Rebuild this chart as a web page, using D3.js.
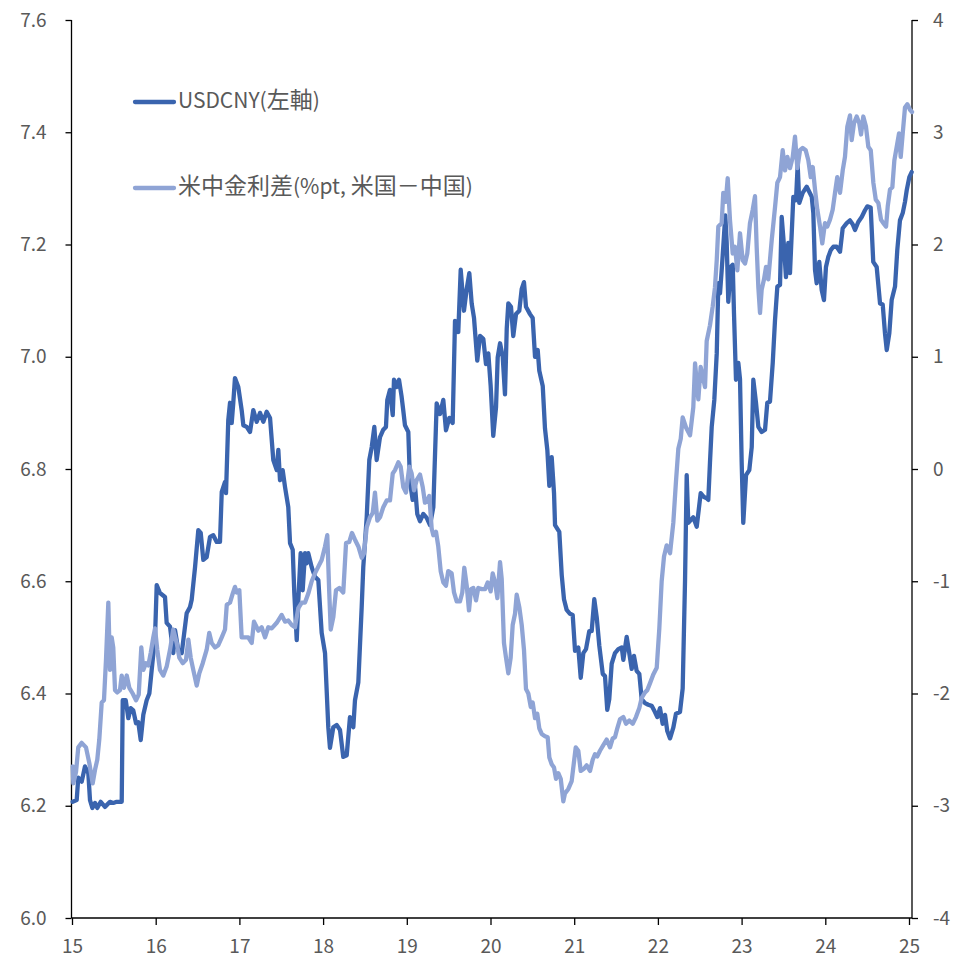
<!DOCTYPE html>
<html>
<head>
<meta charset="utf-8">
<script src="https://cdn.jsdelivr.net/npm/d3@7"></script>
<style>
  body { margin: 0; background: #fff; }
  text { font-family: "Noto Sans CJK JP", "Noto Sans", sans-serif; fill: #595959; }
</style>
</head>
<body>
<svg id="chart" width="953" height="960"></svg>
<script>
// USD/CNY spot rate (left axis); time in decimal years
const usdDates = [
  2015.008,2015.056,2015.075,2015.116,2015.155,2015.195,2015.215,2015.243,2015.275,2015.302,
  2015.343,2015.394,2015.454,2015.493,2015.534,2015.594,2015.606,2015.642,2015.673,2015.701,
  2015.732,2015.765,2015.792,2015.821,2015.852,2015.892,2015.924,2015.952,2015.992,
  2016.012,2016.051,2016.111,2016.131,2016.171,2016.210,2016.231,2016.270,2016.311,2016.330,
  2016.370,2016.410,2016.430,2016.470,2016.509,2016.538,2016.569,2016.609,2016.649,2016.688,
  2016.729,2016.768,2016.789,2016.828,2016.840,2016.867,2016.888,2016.908,2016.927,2016.947,2016.987,
  2017.027,2017.047,2017.087,2017.127,2017.166,2017.207,2017.246,2017.286,2017.326,2017.366,
  2017.405,2017.446,2017.465,2017.485,2017.517,2017.545,2017.584,2017.605,2017.637,2017.656,
  2017.685,2017.704,2017.732,2017.756,2017.784,2017.804,2017.823,2017.864,2017.903,2017.943,2017.983,
  2018.023,2018.062,2018.082,2018.122,2018.162,2018.202,2018.241,2018.282,2018.321,2018.361,
  2018.381,2018.421,2018.461,2018.480,2018.521,2018.552,2018.581,2018.612,2018.640,2018.680,
  2018.719,2018.751,2018.767,2018.799,2018.832,2018.847,2018.879,2018.907,2018.937,2018.958,2018.978,
  2019.018,2019.038,2019.070,2019.098,2019.125,2019.158,2019.197,2019.238,2019.277,2019.317,
  2019.357,2019.397,2019.436,2019.468,2019.508,2019.548,2019.576,2019.615,2019.644,2019.683,
  2019.716,2019.747,2019.775,2019.803,2019.842,2019.875,2019.914,2019.946,2019.974,
  2020.002,2020.033,2020.066,2020.086,2020.114,2020.146,2020.173,2020.194,2020.213,2020.245,
  2020.272,2020.305,2020.344,2020.373,2020.400,2020.424,2020.472,2020.504,2020.532,2020.564,
  2020.583,2020.624,2020.651,2020.679,2020.703,2020.731,2020.759,2020.771,2020.822,2020.851,
  2020.878,2020.910,2020.950,2020.982,
  2021.010,2021.049,2021.078,2021.109,2021.141,2021.180,2021.209,2021.240,2021.269,2021.300,
  2021.341,2021.368,2021.395,2021.419,2021.448,2021.487,2021.527,2021.568,2021.587,2021.627,
  2021.658,2021.687,2021.714,2021.747,2021.778,2021.806,2021.846,2021.885,2021.926,2021.965,2021.993,
  2022.025,2022.057,2022.085,2022.112,2022.145,2022.184,2022.216,2022.264,2022.296,2022.324,
  2022.344,2022.363,2022.423,2022.464,2022.511,2022.551,2022.583,2022.602,2022.622,2022.643,
  2022.674,2022.703,2022.722,2022.742,2022.762,2022.781,2022.805,2022.822,2022.841,2022.870,
  2022.894,2022.909,2022.933,2022.961,2022.981,
  2023.001,2023.020,2023.053,2023.092,2023.121,2023.140,2023.172,2023.200,2023.240,2023.280,
  2023.307,2023.339,2023.372,2023.399,2023.427,2023.459,2023.479,2023.507,2023.530,2023.558,
  2023.578,2023.618,2023.650,2023.670,2023.689,2023.730,2023.778,2023.838,2023.857,2023.877,
  2023.897,2023.928,2023.957,2023.984,
  2024.008,2024.036,2024.065,2024.096,2024.136,2024.176,2024.208,2024.256,2024.295,2024.327,
  2024.355,2024.394,2024.435,2024.474,2024.502,2024.542,2024.573,2024.614,2024.654,2024.686,
  2024.713,2024.734,2024.765,2024.793,2024.833,2024.860,2024.892,2024.925,2024.952,2024.973,
  2025.004,2025.032
];
const usdRate = [
  6.207,6.210,6.250,6.243,6.270,6.258,6.210,6.196,6.205,6.196,
  6.207,6.198,6.207,6.205,6.207,6.207,6.388,6.388,6.356,6.374,
  6.370,6.347,6.349,6.317,6.362,6.388,6.400,6.442,6.500,
  6.593,6.579,6.572,6.526,6.519,6.472,6.513,6.477,6.472,6.495,
  6.543,6.554,6.567,6.625,6.691,6.686,6.638,6.643,6.679,6.682,
  6.670,6.670,6.759,6.777,6.757,6.887,6.918,6.882,6.918,6.962,6.946,
  6.905,6.878,6.875,6.866,6.905,6.884,6.900,6.884,6.902,6.891,
  6.816,6.798,6.834,6.780,6.798,6.768,6.732,6.668,6.656,6.579,
  6.495,6.567,6.650,6.584,6.650,6.632,6.650,6.625,6.608,6.602,6.508,
  6.472,6.340,6.303,6.340,6.344,6.335,6.287,6.290,6.358,6.340,
  6.388,6.420,6.554,6.625,6.714,6.816,6.839,6.875,6.816,6.857,
  6.870,6.875,6.923,6.941,6.896,6.959,6.946,6.959,6.930,6.904,6.878,
  6.866,6.777,6.745,6.770,6.720,6.707,6.720,6.713,6.700,6.732,
  6.917,6.898,6.923,6.869,6.891,6.882,7.064,7.044,7.155,7.082,
  7.121,7.149,7.095,7.069,6.993,7.037,7.032,6.987,7.006,
  6.948,6.859,6.910,6.999,7.024,7.000,6.933,7.050,7.095,7.089,
  7.037,7.076,7.082,7.121,7.133,7.089,7.076,7.069,7.000,7.012,
  6.975,6.948,6.872,6.834,6.770,6.821,6.757,6.700,6.688,6.611,
  6.568,6.549,6.542,6.540,
  6.476,6.482,6.428,6.472,6.479,6.511,6.511,6.568,6.536,6.485,
  6.435,6.431,6.371,6.390,6.453,6.472,6.479,6.482,6.460,6.501,
  6.472,6.444,6.467,6.440,6.435,6.390,6.383,6.380,6.378,6.367,6.358,
  6.374,6.346,6.362,6.333,6.320,6.339,6.364,6.367,6.409,6.600,
  6.789,6.704,6.714,6.697,6.757,6.750,6.748,6.745,6.811,6.875,
  6.923,7.006,7.131,7.113,7.154,7.196,7.252,7.203,7.098,7.160,
  7.164,7.078,6.959,6.989,6.960,
  6.811,6.704,6.789,6.798,6.839,6.959,6.918,6.875,6.866,6.870,
  6.918,6.920,6.989,7.065,7.125,7.128,7.249,7.196,7.142,7.203,
  7.149,7.285,7.279,7.342,7.274,7.292,7.303,7.285,7.256,7.155,
  7.131,7.169,7.119,7.101,
  7.160,7.178,7.190,7.196,7.196,7.187,7.229,7.238,7.243,7.236,
  7.226,7.240,7.249,7.261,7.268,7.266,7.169,7.160,7.095,7.093,
  7.042,7.012,7.042,7.101,7.125,7.190,7.243,7.256,7.276,7.297,
  7.320,7.329
];

// US minus China interest-rate spread, %pt (right axis)
const spreadDates = [
  2015.008,2015.016,2015.048,2015.075,2015.116,2015.167,2015.207,2015.247,2015.275,2015.302,
  2015.326,2015.355,2015.382,2015.406,2015.434,2015.454,2015.474,2015.493,2015.514,2015.541,
  2015.573,2015.594,2015.621,2015.654,2015.685,2015.725,2015.765,2015.797,2015.828,2015.852,
  2015.884,2015.912,2015.940,2015.971,2015.992,
  2016.019,2016.051,2016.091,2016.131,2016.171,2016.210,2016.251,2016.282,2016.323,2016.362,
  2016.390,2016.418,2016.449,2016.490,2016.521,2016.562,2016.609,2016.640,2016.669,2016.709,
  2016.748,2016.789,2016.828,2016.849,2016.888,2016.920,2016.947,2016.968,2016.999,
  2017.027,2017.067,2017.106,2017.147,2017.174,2017.207,2017.226,2017.266,2017.306,2017.345,
  2017.386,2017.446,2017.505,2017.545,2017.584,2017.625,2017.664,2017.704,2017.745,2017.784,
  2017.823,2017.864,2017.903,2017.943,2017.983,
  2018.023,2018.050,2018.074,2018.091,2018.122,2018.154,2018.194,2018.241,2018.274,2018.313,
  2018.345,2018.381,2018.421,2018.461,2018.489,2018.521,2018.560,2018.593,2018.620,2018.648,
  2018.680,2018.719,2018.760,2018.799,2018.832,2018.859,2018.899,2018.927,2018.958,2018.990,
  2019.030,2019.058,2019.086,2019.118,2019.158,2019.190,2019.217,2019.245,2019.269,2019.297,
  2019.317,2019.349,2019.376,2019.405,2019.436,2019.468,2019.495,2019.536,2019.564,2019.596,
  2019.635,2019.663,2019.687,2019.716,2019.743,2019.767,2019.795,2019.827,2019.854,2019.895,
  2019.935,2019.967,
  2020.002,2020.026,2020.054,2020.082,2020.114,2020.134,2020.161,2020.185,2020.213,2020.241,
  2020.265,2020.293,2020.313,2020.344,2020.373,2020.400,2020.424,2020.452,2020.481,2020.504,
  2020.532,2020.559,2020.583,2020.612,2020.651,2020.683,2020.703,2020.731,2020.759,2020.783,
  2020.810,2020.839,2020.870,2020.890,2020.930,2020.970,
  2021.018,2021.049,2021.078,2021.117,2021.149,2021.189,2021.221,2021.249,2021.276,2021.308,
  2021.348,2021.388,2021.428,2021.460,2021.487,2021.515,2021.547,2021.587,2021.619,2021.658,
  2021.699,2021.738,2021.778,2021.806,2021.846,2021.873,2021.905,2021.945,2021.986,
  2022.017,2022.045,2022.073,2022.105,2022.145,2022.184,2022.216,2022.244,2022.273,2022.296,
  2022.336,2022.384,2022.423,2022.444,2022.483,2022.511,2022.563,2022.583,2022.622,2022.655,
  2022.682,2022.703,2022.722,2022.762,2022.781,2022.810,2022.834,2022.861,2022.894,2022.921,
  2022.949,2022.981,
  2023.013,2023.041,2023.068,2023.100,2023.133,2023.160,2023.180,2023.200,2023.220,2023.240,
  2023.268,2023.292,2023.319,2023.360,2023.399,2023.427,2023.459,2023.491,2023.519,2023.547,
  2023.578,2023.611,2023.638,2023.666,2023.698,2023.730,2023.766,2023.797,2023.826,2023.850,
  2023.877,2023.905,2023.937,2023.964,2023.996,
  2024.024,2024.056,2024.088,2024.116,2024.143,2024.176,2024.208,2024.235,2024.263,2024.295,
  2024.315,2024.343,2024.375,2024.406,2024.427,2024.454,2024.486,2024.514,2024.543,2024.574,
  2024.603,2024.634,2024.666,2024.693,2024.726,2024.746,2024.773,2024.801,2024.825,2024.853,
  2024.881,2024.901,2024.925,2024.952,2024.980,2025.012,2025.036
];
const spreadPct = [
  -2.65,-2.80,-2.70,-2.48,-2.44,-2.48,-2.62,-2.80,-2.68,-2.59,
  -2.41,-2.08,-2.06,-1.70,-1.19,-1.79,-1.50,-1.59,-1.97,-1.99,
  -1.97,-1.84,-1.95,-1.84,-1.95,-2.00,-2.06,-2.01,-1.59,-1.79,
  -1.73,-1.75,-1.64,-1.50,-1.42,
  -1.61,-1.79,-1.84,-1.76,-1.61,-1.43,-1.55,-1.68,-1.73,-1.70,
  -1.52,-1.68,-1.79,-1.93,-1.82,-1.73,-1.61,-1.46,-1.55,-1.59,
  -1.57,-1.50,-1.43,-1.21,-1.19,-1.11,-1.05,-1.10,-1.08,
  -1.50,-1.50,-1.50,-1.55,-1.36,-1.41,-1.44,-1.41,-1.50,-1.41,
  -1.42,-1.37,-1.30,-1.36,-1.35,-1.39,-1.41,-1.24,-1.19,-1.19,
  -1.11,-1.00,-0.93,-0.87,-0.81,
  -0.69,-0.59,-1.11,-1.43,-1.32,-1.08,-1.06,-1.10,-0.66,-0.65,
  -0.57,-0.63,-0.69,-0.79,-0.75,-0.52,-0.43,-0.39,-0.21,-0.46,
  -0.43,-0.34,-0.28,-0.28,-0.04,-0.01,0.06,0.02,-0.16,-0.21,
  0.02,-0.04,-0.19,-0.10,-0.05,-0.16,-0.30,-0.28,-0.24,-0.53,
  -0.59,-0.56,-0.69,-0.91,-1.01,-1.04,-0.91,-0.93,-1.10,-1.18,
  -1.18,-1.10,-0.88,-1.04,-1.26,-1.07,-1.06,-1.17,-1.06,-1.07,
  -1.07,-1.01,
  -1.09,-0.93,-1.01,-1.15,-0.83,-0.98,-1.55,-1.68,-1.82,-1.68,
  -1.39,-1.29,-1.12,-1.23,-1.39,-1.61,-1.96,-2.00,-2.12,-2.08,
  -2.22,-2.18,-2.31,-2.36,-2.38,-2.39,-2.57,-2.63,-2.66,-2.76,
  -2.71,-2.76,-2.96,-2.89,-2.85,-2.78,
  -2.48,-2.51,-2.69,-2.67,-2.64,-2.69,-2.59,-2.54,-2.56,-2.51,
  -2.46,-2.41,-2.48,-2.40,-2.39,-2.31,-2.23,-2.21,-2.27,-2.24,
  -2.27,-2.21,-2.13,-2.04,-1.99,-1.97,-1.91,-1.83,-1.77,
  -1.42,-1.00,-0.78,-0.68,-0.75,-0.48,-0.11,0.18,0.27,0.46,
  0.37,0.30,0.55,0.94,0.62,0.91,0.73,1.14,1.28,1.45,
  1.62,1.86,2.16,2.19,2.46,2.38,2.59,2.22,1.92,1.98,
  1.77,2.10,
  1.86,1.83,1.92,2.19,2.31,2.43,1.98,1.62,1.39,1.60,
  1.69,1.80,1.69,2.04,2.33,2.55,2.60,2.84,2.66,2.78,
  2.68,2.78,2.96,2.68,2.84,2.86,2.84,2.75,2.60,2.69,
  2.49,2.31,2.16,2.01,2.19,
  2.16,2.22,2.31,2.46,2.60,2.46,2.66,2.78,3.05,3.15,
  2.93,3.08,3.14,3.08,2.98,3.14,3.05,2.87,2.84,2.55,
  2.40,2.37,2.22,2.19,2.16,2.34,2.49,2.51,2.75,2.87,
  2.99,2.78,2.99,3.22,3.25,3.20,3.18
];

// Axis ticks and legend labels
const leftTicks = [6.0, 6.2, 6.4, 6.6, 6.8, 7.0, 7.2, 7.4, 7.6];
const rightTicks = [-4, -3, -2, -1, 0, 1, 2, 3, 4];
const yearTicks = [2015, 2016, 2017, 2018, 2019, 2020, 2021, 2022, 2023, 2024, 2025];
const seriesNames = ["USDCNY(左軸)", "米中金利差(%pt, 米国－中国)"];
const seriesColors = ["#3A64AE", "#8FA4D5"];

const svg = d3.select("#chart");
const frame = { left: 71.5, right: 912, top: 20, bottom: 918 };

const x = d3.scaleLinear().domain([2015, 2025]).range([72, 909]);
const yLeft = d3.scaleLinear().domain([6.0, 7.6]).range([frame.bottom, frame.top]);
const yRight = d3.scaleLinear().domain([-4, 4]).range([frame.bottom, frame.top]);

// Axes (ticks and labels); the frame lines are drawn separately
const styleAxis = g => {
  g.select(".domain").remove();
  g.selectAll(".tick line").attr("stroke", "#000").attr("stroke-width", 1.3);
  g.selectAll(".tick text").style("font-size", "19px").attr("fill", "#595959");
};

svg.append("g")
  .attr("transform", `translate(${frame.left},0)`)
  .call(d3.axisLeft(yLeft).tickValues(leftTicks).tickFormat(d => d.toFixed(1)).tickSize(6).tickPadding(19))
  .call(styleAxis);

svg.append("g")
  .attr("transform", `translate(${frame.right},0)`)
  .call(d3.axisRight(yRight).tickValues(rightTicks).tickFormat(d => String(d)).tickSize(6).tickPadding(15))
  .call(styleAxis);

svg.append("g")
  .attr("transform", `translate(0,${frame.bottom})`)
  .call(d3.axisBottom(x).tickValues(yearTicks).tickFormat(d => String(d % 100)).tickSize(7).tickPadding(15))
  .call(styleAxis);

const frameLines = [
  [frame.left, frame.top, frame.left, frame.bottom],
  [frame.right, frame.top, frame.right, frame.bottom],
  [frame.left, frame.bottom, frame.right, frame.bottom]
];
svg.append("g").selectAll("line").data(frameLines).join("line")
  .attr("x1", d => d[0]).attr("y1", d => d[1])
  .attr("x2", d => d[2]).attr("y2", d => d[3])
  .attr("stroke", "#000").attr("stroke-width", 1.3);

// Series lines
const usdPoints = usdDates.map((t, i) => [t, usdRate[i]]);
const spreadPoints = spreadDates.map((t, i) => [t, spreadPct[i]]);

svg.append("path")
  .datum(usdPoints)
  .attr("fill", "none")
  .attr("stroke", seriesColors[0])
  .attr("stroke-width", 4.3)
  .attr("stroke-linejoin", "round")
  .attr("stroke-linecap", "round")
  .attr("d", d3.line().x(d => x(d[0])).y(d => yLeft(d[1])));

svg.append("path")
  .datum(spreadPoints)
  .attr("fill", "none")
  .attr("stroke", seriesColors[1])
  .attr("stroke-width", 4.3)
  .attr("stroke-linejoin", "round")
  .attr("stroke-linecap", "round")
  .attr("d", d3.line().x(d => x(d[0])).y(d => yRight(d[1])));

// Legend: CJK glyphs set slightly larger than the Latin ones
const legend = svg.append("g");
const legendRows = seriesNames.map((name, i) => ({ name, color: seriesColors[i], y: 102 + i * 86 }));
legend.selectAll("line").data(legendRows).join("line")
  .attr("x1", 135).attr("x2", 174)
  .attr("y1", d => d.y).attr("y2", d => d.y)
  .attr("stroke", d => d.color)
  .attr("stroke-width", 4.3)
  .attr("stroke-linecap", "round");

const splitRuns = s => s.match(/[\u3000-\u9fff\uff00-\uffef]+|[^\u3000-\u9fff\uff00-\uffef]+/g);
legend.selectAll("text").data(legendRows).join("text")
  .attr("x", 178).attr("y", d => d.y)
  .attr("dy", "0.35em")
  .attr("fill", "#595959")
  .each(function(d) {
    d3.select(this).selectAll("tspan").data(splitRuns(d.name)).join("tspan")
      .style("font-size", r => /[\u3000-\u9fff\uff00-\uffef]/.test(r) ? "23px" : "21px")
      .text(r => r);
  });
</script>
</body>
</html>
